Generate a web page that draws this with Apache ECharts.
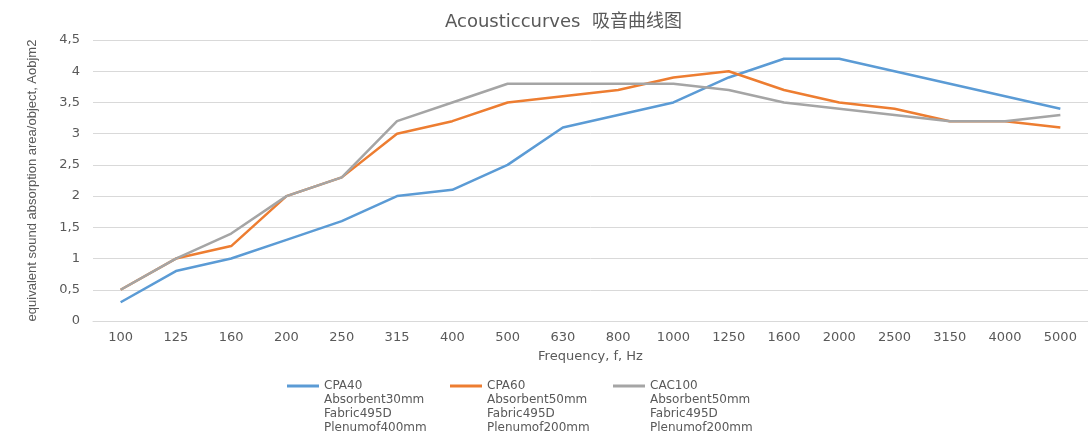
<!DOCTYPE html>
<html>
<head>
<meta charset="utf-8">
<script src="https://cdn.jsdelivr.net/npm/echarts@6/dist/echarts.min.js"></script>
<style>
  html, body { margin: 0; padding: 0; background: #fff; }
  #chart { width: 1088px; height: 439px; }
</style>
</head>
<body>
<div id="chart"></div>
<script>
  // frequencies (Hz)
  const frequencies = ['100', '125', '160', '200', '250', '315', '400', '500', '630', '800',
    '1000', '1250', '1600', '2000', '2500', '3150', '4000', '5000']

  const cpa40 = [0.3, 0.8, 1.0, 1.3, 1.6, 2.0, 2.1, 2.5, 3.1, 3.3, 3.5, 3.9, 4.2, 4.2, 4.0, 3.8, 3.6, 3.4]
  const cpa60 = [0.5, 1.0, 1.2, 2.0, 2.3, 3.0, 3.2, 3.5, 3.6, 3.7, 3.9, 4.0, 3.7, 3.5, 3.4, 3.2, 3.2, 3.1]
  const cac100 = [0.5, 1.0, 1.4, 2.0, 2.3, 3.2, 3.5, 3.8, 3.8, 3.8, 3.8, 3.7, 3.5, 3.4, 3.3, 3.2, 3.2, 3.3]

  const seriesNames = [
    'CPA40\nAbsorbent30mm\nFabric495D\nPlenumof400mm',
    'CPA60\nAbsorbent50mm\nFabric495D\nPlenumof200mm',
    'CAC100\nAbsorbent50mm\nFabric495D\nPlenumof200mm'
  ]

  const textColor = '#595959'
  const font = 'DejaVu Sans'

  const chart = echarts.init(document.getElementById('chart'))

  const lineSeries = (name, data, color) => ({
    name: name,
    type: 'line',
    data: data,
    symbol: 'none',
    smooth: false,
    color: color,
    lineStyle: { width: 2.5, color: color }
  })

  const option = {
    animation: false,
    title: {
      text: 'Acousticcurves  吸音曲线图',
      left: 440,
      top: 8,
      textStyle: { color: textColor, fontSize: 18, fontWeight: 'normal', fontFamily: font + ', "Noto Sans CJK SC"' }
    },
    legend: {
      left: 287,
      top: 337,
      padding: 0,
      itemWidth: 32,
      itemHeight: 3,
      itemGap: 6,
      icon: 'rect',
      // blank lines above so the icon sits beside the first line
      formatter: name => '\n\n\n' + name,
      textStyle: {
        color: textColor,
        fontSize: 12,
        fontFamily: font,
        lineHeight: 14,
        width: 120
      },
      data: seriesNames
    },
    grid: {
      left: 93,
      right: -4,
      top: 40,
      bottom: 118
    },
    xAxis: {
      type: 'category',
      data: frequencies,
      boundaryGap: true,
      name: 'Frequency, f, Hz',
      nameLocation: 'middle',
      nameGap: 29,
      nameTextStyle: { color: textColor, fontSize: 13, fontFamily: font },
      axisLine: { lineStyle: { color: '#d9d9d9' } },
      axisTick: { show: false },
      axisLabel: { color: textColor, fontSize: 13, fontFamily: font, margin: 10 }
    },
    yAxis: {
      type: 'value',
      min: 0,
      max: 4.5,
      interval: 0.5,
      name: 'equivalent sound absorption area/object, Aobjm2',
      nameLocation: 'middle',
      nameRotate: 90,
      nameGap: 54,
      nameTextStyle: { color: textColor, fontSize: 13, fontFamily: '"Liberation Sans Narrow", "Liberation Sans"' },
      axisLine: { show: false },
      axisTick: { show: false },
      splitLine: { lineStyle: { color: '#d9d9d9', width: 1 } },
      axisLabel: {
        color: textColor,
        fontSize: 13,
        fontFamily: font,
        margin: 13,
        formatter: v => String(v).replace('.', ',')
      }
    },
    series: [
      lineSeries(seriesNames[0], cpa40, '#5B9BD5'),
      lineSeries(seriesNames[1], cpa60, '#ED7D31'),
      lineSeries(seriesNames[2], cac100, '#A5A5A5')
    ]
  }

  chart.setOption(option)
</script>
</body>
</html>
